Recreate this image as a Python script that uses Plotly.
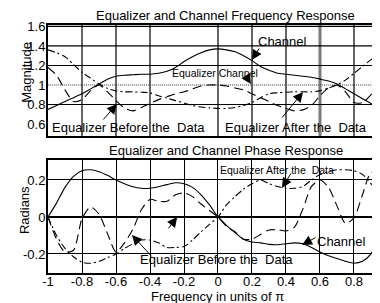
import plotly.graph_objects as go

# ---------------- data ----------------
freq = [-1.00, -0.95, -0.90, -0.85, -0.80, -0.75, -0.70, -0.65, -0.60, -0.55,
        -0.50, -0.45, -0.40, -0.35, -0.30, -0.25, -0.20, -0.15, -0.10, -0.05,
        0.00, 0.05, 0.10, 0.15, 0.20, 0.25, 0.30, 0.35, 0.40, 0.45,
        0.50, 0.55, 0.60, 0.65, 0.70, 0.75, 0.80, 0.85, 0.90, 0.95]

# magnitude response
mag_channel = [0.75, 0.79, 0.83, 0.87, 0.91, 0.96, 1.01, 1.06, 1.09, 1.10,
               1.105, 1.11, 1.11, 1.12, 1.14, 1.18, 1.24, 1.29, 1.33, 1.36,
               1.37, 1.36, 1.34, 1.30, 1.25, 1.19, 1.15, 1.12, 1.11, 1.10,
               1.09, 1.08, 1.06, 1.04, 1.01, 0.96, 0.91, 0.86, 0.81, 0.76]
mag_eq_after = [1.36, 1.33, 1.29, 1.21, 1.13, 1.07, 1.01, 0.965, 0.94, 0.93,
                0.93, 0.925, 0.92, 0.89, 0.865, 0.84, 0.815, 0.79, 0.775, 0.765,
                0.76, 0.76, 0.77, 0.79, 0.82, 0.87, 0.91, 0.92, 0.925, 0.93,
                0.93, 0.93, 0.94, 0.97, 1.00, 1.05, 1.12, 1.19, 1.26, 1.31]
mag_eq_before = [1.18, 1.10, 0.95, 0.83, 0.85, 0.94, 1.00, 0.93, 0.84, 0.765,
                 0.735, 0.77, 0.81, 0.85, 0.88, 0.91, 0.93, 0.96, 0.99, 1.00,
                 1.00, 0.99, 0.97, 0.95, 0.91, 0.87, 0.83, 0.79, 0.76, 0.735,
                 0.745, 0.79, 0.89, 0.97, 1.00, 0.93, 0.82, 0.82, 0.90, 1.00]
mag_eq_channel = [1.00, 1.00, 1.00, 1.00, 1.00, 1.00, 1.00, 1.00, 1.00, 1.00,
                  1.00, 1.00, 1.00, 1.00, 1.00, 1.00, 1.00, 1.00, 1.00, 1.00,
                  1.00, 1.00, 1.00, 1.00, 1.00, 1.00, 1.00, 1.00, 1.00, 1.00,
                  1.00, 1.00, 1.00, 1.00, 1.00, 1.00, 1.00, 1.00, 1.00, 1.00]

# phase response
ph_channel = [0.0, 0.075, 0.16, 0.22, 0.25, 0.255, 0.245, 0.225, 0.20, 0.18,
              0.163, 0.155, 0.155, 0.163, 0.175, 0.185, 0.18, 0.16, 0.12, 0.065,
              0.0, -0.045, -0.085, -0.12, -0.135, -0.14, -0.148, -0.15, -0.145, -0.14,
              -0.145, -0.165, -0.19, -0.21, -0.225, -0.24, -0.25, -0.24, -0.20, -0.11]
ph_eq_after = [0.0, -0.10, -0.17, -0.215, -0.245, -0.25, -0.24, -0.22, -0.20, -0.17,
               -0.145, -0.125, -0.125, -0.14, -0.165, -0.165, -0.16, -0.125, -0.08, -0.04,
               0.0, 0.065, 0.11, 0.15, 0.18, 0.20, 0.18, 0.165, 0.155, 0.155,
               0.165, 0.20, 0.23, 0.245, 0.255, 0.255, 0.25, 0.23, 0.18, 0.12]
ph_eq_before = [0.0, -0.12, -0.19, -0.18, -0.01, 0.055, 0.015, -0.09, -0.19, -0.14,
                -0.065, 0.04, 0.095, 0.085, 0.085, 0.12, 0.13, 0.11, 0.07, 0.035,
                0.0, -0.05, -0.08, -0.12, -0.12, -0.095, -0.07, -0.07, -0.075, -0.055,
                0.045, 0.165, 0.20, 0.16, 0.06, -0.035, -0.005, 0.12, 0.24, 0.23]

x_ticks = [-1, -0.8, -0.6, -0.4, -0.2, 0, 0.2, 0.4, 0.6, 0.8]
x_tick_text = ['-1', '-0.8', '-0.6', '-0.4', '-0.2', '0', '0.2', '0.4', '0.6', '0.8']
mag_ticks = [0.6, 0.8, 1.0, 1.2, 1.4, 1.6]
mag_tick_text = ['0.6', '0.8', '1', '1.2', '1.4', '1.6']
ph_ticks = [-0.2, 0, 0.2]
ph_tick_text = ['-0.2', '0', '0.2']

top_vgrid = [-0.8, -0.6, -0.4, 0, 0.2, 0.4, 0.8]
top_hgrid = [0.8, 1.2, 1.4, 1.6]

# ---------------- styles ----------------
LONG_DASH = '9px,5px'
DASH_DOT = '7px,3px,2px,3px'
DOTTED = '1px,1px'
FONT = 'Liberation Sans, Arial, sans-serif'

fig = go.Figure()

def add(y, dash, xa, ya, color='black', width=1.1):
    fig.add_trace(go.Scatter(x=freq, y=y, mode='lines', xaxis=xa, yaxis=ya,
                             line=dict(color=color, width=width, dash=dash,
                                       shape='spline', smoothing=0.7),
                             hoverinfo='skip'))

add(mag_eq_channel, DOTTED, 'x', 'y', color='#333333', width=1)
add(mag_eq_before, LONG_DASH, 'x', 'y')
add(mag_eq_after, DASH_DOT, 'x', 'y')
add(mag_channel, 'solid', 'x', 'y')

add(ph_eq_before, LONG_DASH, 'x2', 'y2')
add(ph_eq_after, DASH_DOT, 'x2', 'y2')
add(ph_channel, 'solid', 'x2', 'y2')

shapes = []
for v in top_vgrid:
    shapes.append(dict(type='line', xref='x', yref='y domain', x0=v, x1=v, y0=0, y1=1,
                       line=dict(color='black', width=1.2), layer='below'))
shapes.append(dict(type='line', xref='x', yref='y domain', x0=0.6, x1=0.6, y0=0, y1=1,
                   line=dict(color='#7a7a7a', width=3), layer='below'))
for h in top_hgrid:
    shapes.append(dict(type='line', xref='x domain', yref='y', x0=0, x1=1, y0=h, y1=h,
                       line=dict(color='black', width=1.2), layer='below'))

axis_common = dict(showline=True, linecolor='black', linewidth=2, ticks='',
                   automargin=False,
                   tickfont=dict(size=13, family=FONT, color='black'))

# page body has an 8px default margin; size the figure so the plot lands where the
# reference has it inside the 380x303 window
fig.update_layout(
    width=372, height=295,
    margin=dict(l=40, r=0, t=17, b=30, pad=0),
    paper_bgcolor='white', plot_bgcolor='white', showlegend=False,
    font=dict(family=FONT, size=13, color='black'),
    shapes=shapes,
    xaxis=dict(domain=[0, 1], anchor='y', range=[-1, 0.953], showgrid=False,
               showticklabels=False, mirror=True, zeroline=False, **axis_common),
    yaxis=dict(domain=[0.5524, 1], anchor='x', range=[0.477, 1.615],
               tickvals=mag_ticks, ticktext=mag_tick_text, showgrid=False,
               zeroline=False, ticklabelstandoff=-2, **axis_common),
    xaxis2=dict(domain=[0, 1], anchor='y2', range=[-1, 0.953], tickvals=x_ticks,
                ticktext=x_tick_text, showgrid=True, gridcolor='black', gridwidth=1.2,
                mirror=True, zeroline=False, ticklabelstandoff=-5, **axis_common),
    yaxis2=dict(domain=[0, 0.4556], anchor='x2', range=[-0.303, 0.308], tickvals=ph_ticks,
                ticktext=ph_tick_text, showgrid=True, gridcolor='black', gridwidth=1.2,
                zeroline=True, zerolinecolor='black', zerolinewidth=2,
                ticklabelstandoff=-2, **axis_common),
)

ann = []

def txt(x, y, s, xref, yref, size=13, xanchor='center', angle=0):
    ann.append(dict(x=x, y=y, xref=xref, yref=yref, text=s, showarrow=False,
                    xanchor=xanchor, yanchor='middle', textangle=angle,
                    font=dict(size=size, family=FONT, color='black')))

def arrow(x, y, ax, ay, xref, yref):
    ann.append(dict(x=x, y=y, xref=xref, yref=yref, text='', showarrow=True,
                    ax=ax, ay=ay, arrowhead=2, arrowsize=2, arrowwidth=1,
                    arrowcolor='black', standoff=0, startstandoff=0))

txt(0.536, 1.040, 'Equalizer and Channel Frequency Response', 'paper', 'paper')
txt(0.536, 0.492, 'Equalizer and Channel Phase Response', 'paper', 'paper')
txt(-0.064, 0.8105, 'Magnitude', 'paper', 'paper', angle=-90)
txt(-0.072, 0.254, 'Radians', 'paper', 'paper', angle=-90)
txt(0.512, -0.096, 'Frequency in units of π', 'paper', 'paper')

txt(0.382, 1.441, 'Channel', 'x', 'y')
txt(-0.018, 1.123, 'Equalizer Channel', 'x', 'y', size=10.5)
txt(-0.988, 0.569, 'Equalizer Before the  Data', 'x', 'y', xanchor='left')
txt(0.029, 0.569, 'Equalizer After the  Data', 'x', 'y', xanchor='left')

txt(0.0, 0.254, 'Equalizer After the  Data', 'x2', 'y2', size=10.5, xanchor='left')
txt(0.729, -0.135, 'Channel', 'x2', 'y2')
txt(-0.471, -0.232, 'Equalizer Before the  Data', 'x2', 'y2', xanchor='left')

arrow(0.20, 1.256, 8, -13, 'x', 'y')
arrow(0.194, 1.01, -5, -8, 'x', 'y')
arrow(-0.594, 0.805, -15, 17, 'x', 'y')
arrow(0.50, 0.928, -22, 27, 'x', 'y')

arrow(0.376, 0.157, 10, -16, 'x2', 'y2')
arrow(0.494, -0.151, 15, -8, 'x2', 'y2')
arrow(-0.506, -0.097, 21, 23, 'x2', 'y2')
arrow(-0.24, 0.0, -10, 13, 'x2', 'y2')

fig.update_layout(annotations=ann)
fig.write_html('out.html')
